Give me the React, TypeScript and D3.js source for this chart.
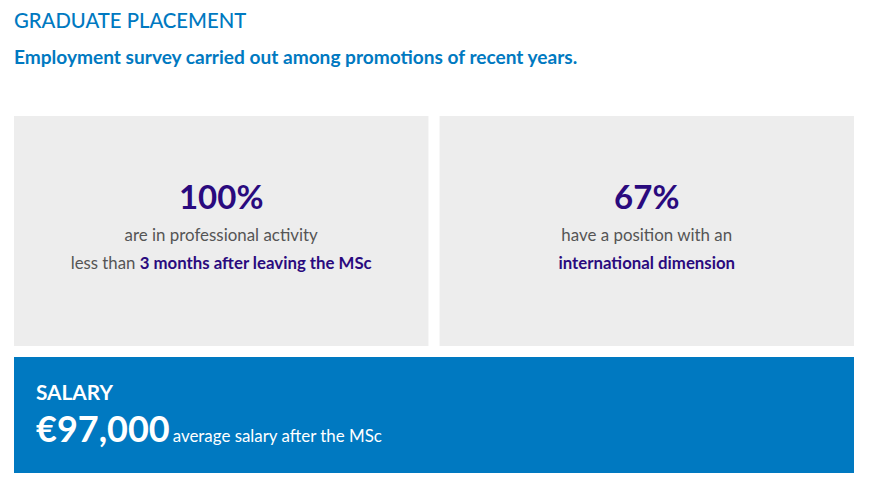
import React from "react";
import * as d3 from "d3";

const stats = [
  { value: "100%", line1: "are in professional activity", line2pre: "less than ", line2bold: "3 months after leaving the MSc" },
  { value: "67%", line1: "have a position with an", line2pre: "", line2bold: "international dimension" },
];
const salaryLabel = "SALARY";
const salaryValue = 97000;
const salaryText = "average salary after the MSc";

const W = 870, H = 484;
const FONT = "Lato, 'Open Sans', sans-serif";
const BLUE = "#0079c1";
const PURPLE = "#2a0a7e";
const GREY = "#555555";

export default function App() {
  const x = d3.scaleBand<number>().domain(stats.map((_, i) => i)).range([14, 854]).paddingInner(11 / 420);
  const fmt = d3.format(",");
  return (
    <svg width={W} height={H} style={{ position: "absolute", left: 0, top: 0, fontFamily: FONT }}>
      <rect width={W} height={H} fill="#fff" />
      <text x={14} y={28} fontSize={20.3} fontWeight={500} fill={BLUE}>GRADUATE PLACEMENT</text>
      <text x={14} y={64} fontSize={19.1} fontWeight={700} fill={BLUE}>Employment survey carried out among promotions of recent years.</text>
      {stats.map((s, i) => {
        const x0 = x(i)!;
        const cx = x0 + x.bandwidth() / 2;
        return (
          <g key={i}>
            <rect x={x0} y={116} width={x.bandwidth()} height={230} fill="#ededed" />
            <text x={cx} y={209} textAnchor="middle" fontSize={33} fontWeight={700} fill={PURPLE}>{s.value}</text>
            <text x={cx} y={241} textAnchor="middle" fontSize={16.9} fill={GREY}>{s.line1}</text>
            <text x={cx} y={269} textAnchor="middle" fontSize={16.8} fill={GREY}>
              {s.line2pre}<tspan fontWeight={700} fill={PURPLE}>{s.line2bold}</tspan>
            </text>
          </g>
        );
      })}
      <rect x={14} y={357} width={840} height={116} fill={BLUE} />
      <text x={36} y={400} fontSize={20.8} fontWeight={700} fill="#fff">{salaryLabel}</text>
      <text x={36} y={442} fill="#fff">
        <tspan fontSize={36} fontWeight={700}>€{fmt(salaryValue)}</tspan>
        <tspan fontSize={16.9} dx={3}>{salaryText}</tspan>
      </text>
    </svg>
  );
}
